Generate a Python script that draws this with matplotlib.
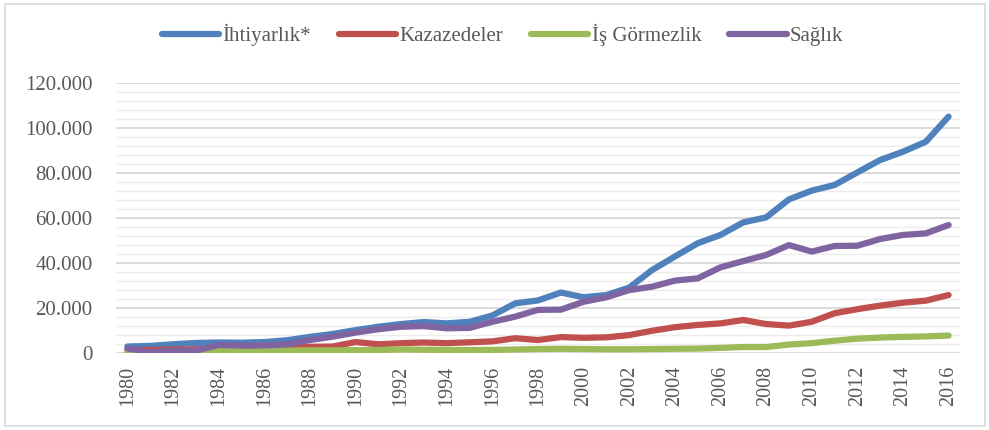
import numpy as np
import matplotlib
matplotlib.use("Agg")
import matplotlib.pyplot as plt
from matplotlib.patches import Rectangle
from matplotlib.ticker import FuncFormatter, MultipleLocator

years = list(range(1980, 2017))

# values in thousands
ihtiyarlik = [3.0, 3.3, 4.0, 4.6, 4.8, 4.7, 5.0, 5.8, 7.3, 8.6, 10.3, 11.8, 13.0, 13.9,
              13.3, 14.0, 16.8, 22.2, 23.5, 27.0, 24.9, 25.9, 29.2, 37.0, 43.0, 48.9,
              52.6, 58.2, 60.4, 68.4, 72.3, 74.8, 80.4, 85.9, 89.6, 94.0, 105.2]
kazazedeler = [1.5, 1.5, 1.7, 1.8, 2.3, 2.3, 2.4, 2.6, 2.9, 3.0, 5.0, 4.0, 4.5, 4.8,
               4.5, 4.9, 5.3, 6.7, 5.9, 7.2, 6.9, 7.1, 8.1, 10.0, 11.6, 12.6, 13.3,
               14.8, 13.0, 12.3, 14.0, 17.8, 19.6, 21.2, 22.5, 23.4, 25.9]
is_gormezlik = [0.5, 0.3, 0.3, 0.4, 1.2, 1.1, 1.1, 1.2, 1.3, 1.3, 1.4, 1.5, 1.7, 1.6,
                1.5, 1.5, 1.5, 1.7, 1.9, 2.0, 1.9, 1.8, 1.8, 1.9, 2.0, 2.1, 2.4, 2.8,
                2.8, 3.9, 4.5, 5.6, 6.5, 7.0, 7.3, 7.5, 7.9]
saglik = [2.2, 0.5, 1.2, 1.2, 3.7, 3.4, 3.5, 4.0, 5.9, 7.4, 9.2, 10.7, 11.8, 12.1,
          11.1, 11.3, 14.0, 16.3, 19.3, 19.4, 22.9, 24.9, 28.1, 29.6, 32.3, 33.3,
          38.2, 41.0, 43.7, 48.1, 45.2, 47.7, 47.8, 50.8, 52.6, 53.3, 57.0]

labels = ["İhtiyarlık*", "Kazazedeler", "İş Görmezlik", "Sağlık"]
colors = ["#4F81BD", "#C0504D", "#9BBB59", "#8064A2"]

plt.rcParams['font.family'] = ['Liberation Serif', 'DejaVu Serif']

fig = plt.figure(figsize=(9.89, 4.30), dpi=100)
ax = fig.add_axes([116/989, 1-353.3/430, (960-116)/989, (353.3-83.3)/430])

series = [ihtiyarlik, kazazedeler, is_gormezlik, saglik]
for vals, lab, col in zip(series, labels, colors):
    ax.plot(years, np.array(vals)*1000, color=col, lw=4.5, label=lab,
            solid_capstyle='round', solid_joinstyle='round', zorder=3)

ax.set_xlim(1979.5, 2016.5)
ax.set_ylim(0, 120000)
ax.yaxis.set_major_locator(MultipleLocator(20000))
ax.yaxis.set_minor_locator(MultipleLocator(4000))
ax.yaxis.set_major_formatter(FuncFormatter(lambda v, p: "{:,.0f}".format(v).replace(",", ".")))
ax.set_xticks(years[::2])
ax.set_xticklabels([str(y) for y in years[::2]], rotation=90)

ax.grid(axis='y', which='major', color='#d4d4d4', lw=1.2, zorder=0)
ax.grid(axis='y', which='minor', color='#ededed', lw=1.0, zorder=0)
for s in ax.spines.values():
    s.set_visible(False)
ax.tick_params(axis='both', which='both', length=0, colors='#595959', labelsize=15)
ax.tick_params(axis='y', pad=17)
ax.tick_params(axis='x', pad=9, labelsize=14.5)

fig.legend(loc='center', bbox_to_anchor=(0.508, 0.919), ncol=4, frameon=False,
           fontsize=15, handlelength=2.75, handletextpad=0.15, columnspacing=1.35,
           labelcolor='#595959')

fig.patches.append(Rectangle((5/989, 4/430), 980/989, 422/430, transform=fig.transFigure,
                             fill=False, edgecolor='#d9d9d9', lw=1.2))

fig.savefig("out.png", dpi=100)
